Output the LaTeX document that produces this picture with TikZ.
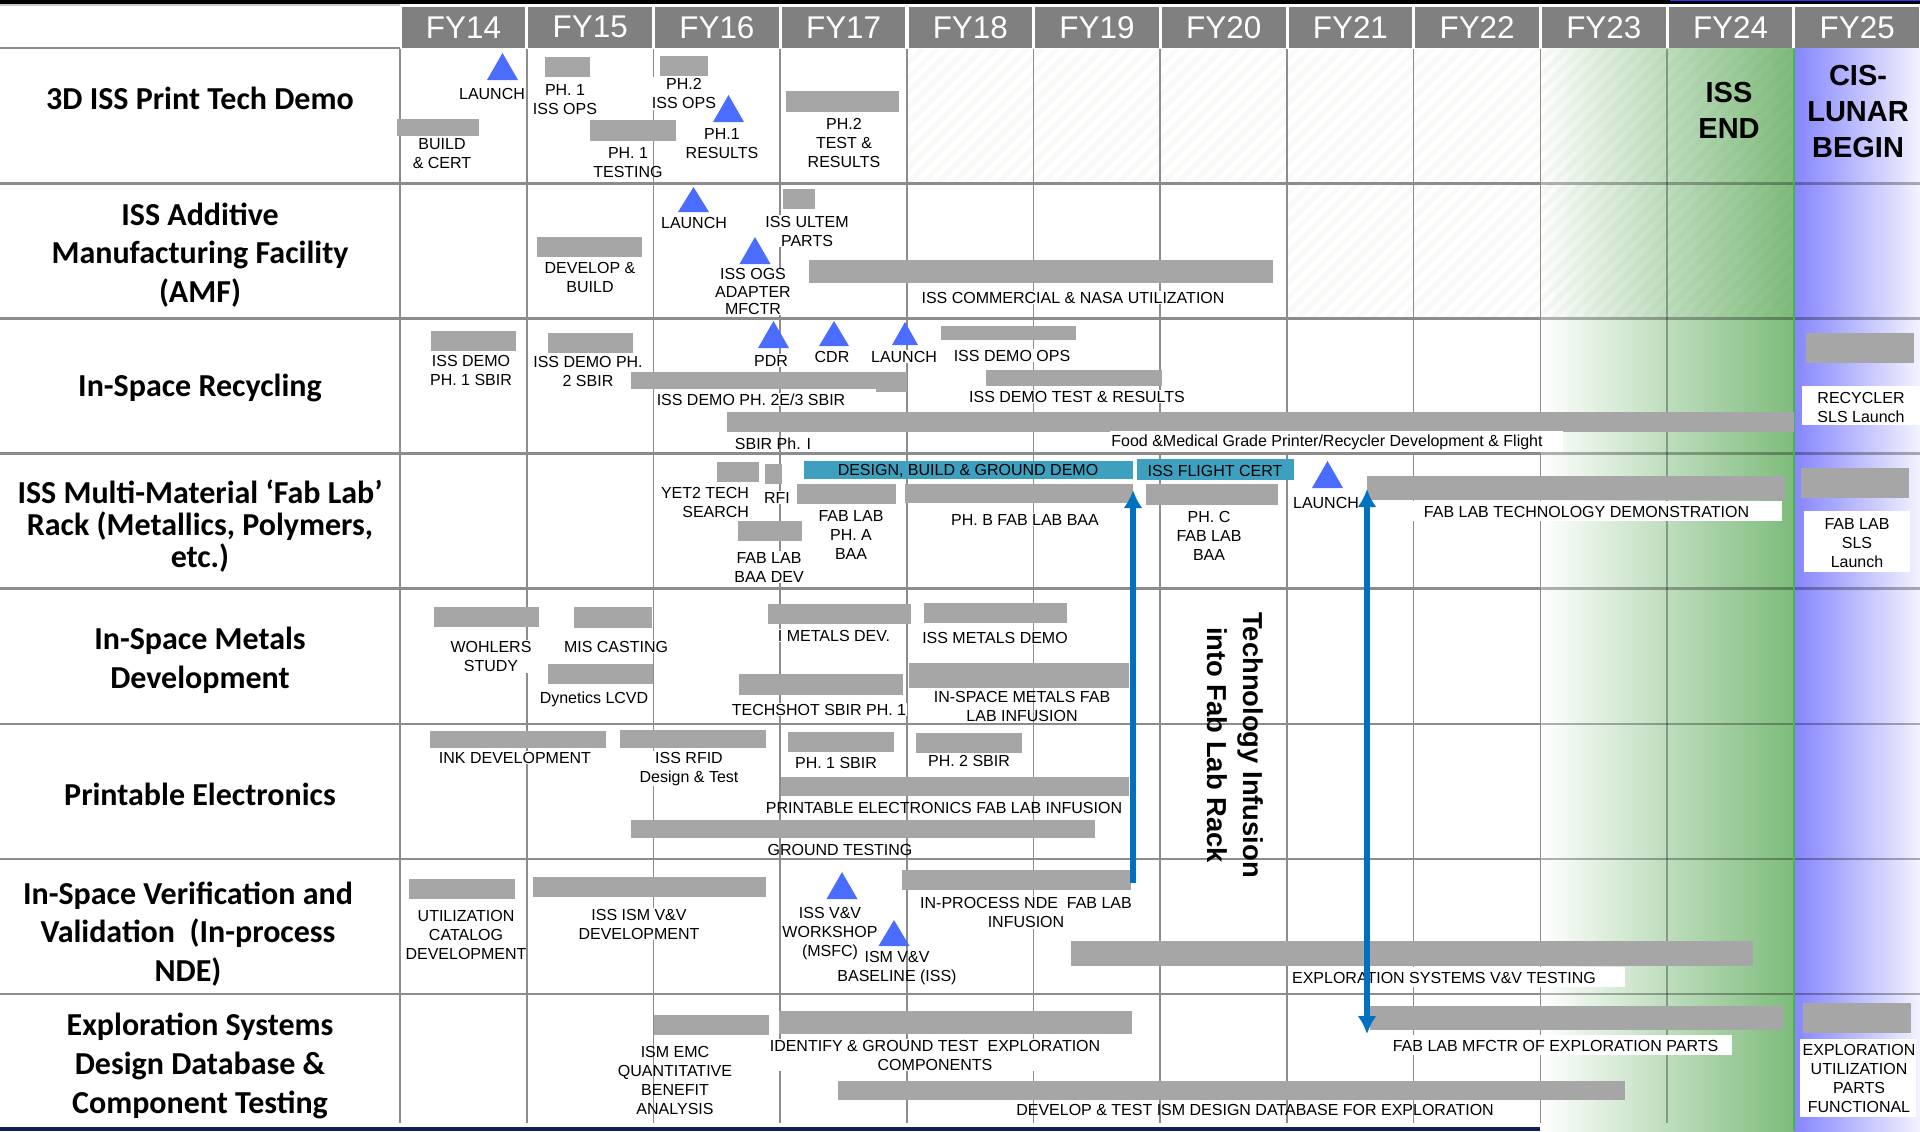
\documentclass[tikz,border=0pt]{standalone}
\usepackage{fontspec}
\setmainfont{Liberation Sans}
\newfontfamily\titlefont{Carlito}
\usetikzlibrary{arrows.meta}
\definecolor{barfill}{HTML}{A6A6A6}
\definecolor{gridline}{HTML}{8C8C8C}
\definecolor{headfill}{HTML}{808080}
\definecolor{tealfill}{HTML}{3DA0BE}
\definecolor{trifill}{HTML}{4A6CFF}
\definecolor{arrowfill}{HTML}{0070C0}
\definecolor{endgreen}{HTML}{7DBB7B}
\definecolor{startblue}{HTML}{8585FF}
\definecolor{navyline}{HTML}{10205A}
\definecolor{hatchline}{HTML}{808060}
\tikzset{
	label8/.style = {font=\fontsize{8}{9.5}\selectfont, align=center, inner sep=0.5pt, yshift=-0.3pt},
	labelw/.style = {label8, fill=white},
	rowtitle/.style = {font=\titlefont\bfseries\fontsize{16}{19.3}\selectfont, align=center, inner sep=0pt},
	fybox/.style = {fill=headfill, text=white, font=\fontsize{15.7}{18}\selectfont, minimum width=61.8pt, minimum height=20.8pt, inner sep=0pt},
	bigbold/.style = {font=\bfseries\fontsize{14.5}{18}\selectfont, align=center, inner sep=0pt},
	infusion/.style = {draw=arrowfill, line width=3pt, -{Latex[length=9pt,width=9.5pt]}},
	infusionboth/.style = {draw=arrowfill, line width=3pt, {Latex[length=9pt,width=9.5pt]}-{Latex[length=9pt,width=9.5pt]}}
}
\newcommand{\taskbar}[4]{\fill[barfill] (#1,#2) rectangle (#3,#4);}
\newcommand{\tealbar}[4]{\fill[tealfill] (#1,#2) rectangle (#3,#4);}
\newcommand{\whitepatch}[4]{\fill[white] (#1,#2) rectangle (#3,#4);}
\newcommand{\milestone}[4]{\fill[trifill] (#1,#2) -- ({#1+#3},#4) -- ({#1-#3},#4) -- cycle;}
\begin{document}
\begin{tikzpicture}[x=0.5pt,y=-0.5pt]
	\useasboundingbox (0,0) rectangle (1920,1131);

	\fill[navyline] (0,1127) rectangle (1920,1131);
	\fill[black] (0,0) rectangle (1920,4);
	\fill[blue!80!white] (1670,0) rectangle (1920,1);
	\fill[gray!40] (0,4) rectangle (400,5.5);

	\shade[left color=white, right color=endgreen] (1540,48) rectangle (1794,1131);
	\shade[left color=startblue, right color=startblue!10!white] (1794,48) rectangle (1920,1131);

	\begin{scope}
		\clip (908,49) rectangle (1794,182) (1288,184) rectangle (1794,317);
		\foreach \s in {908,923,...,2070} {
			\draw[hatchline, opacity=0.05, line width=2.5pt] (\s,48) -- ({\s-270},318);
		}
	\end{scope}

	\foreach \yr [count=\i from 0] in {14,...,25} {
		\node[fybox] (fy\yr) at ({463.5+126.7*\i},27.3) {FY\yr};
	}

	\draw[gridline, line width=1pt] (0,48.3) -- (400,48.3);
	\foreach \y in {183.4,318.4,453.4,588.5,724.2,859.2,994.2} {
		\draw[gridline, line width=1.1pt] (0,\y) -- (1540,\y);
		\draw[black, opacity=0.3, line width=1.1pt] (1540,\y) -- (1920,\y);
	}
	\foreach \x in {400,526.7,653.4,780.1,906.8,1033.5,1160.2,1286.9,1413.6,1540.3} {
		\draw[gridline, line width=0.8pt] (\x,49) -- (\x,1123);
	}
	\draw[black, opacity=0.3, line width=0.8pt] (1667,49) -- (1667,1123);
	\draw[green!40!gray, line width=0.9pt] (1794,49) -- (1794,1131);

	\node[rowtitle] (titleprint) at (200,98) {3D ISS Print Tech Demo};
	\node[rowtitle] (titleamf) at (200,255) {ISS Additive\\[0pt]Manufacturing Facility\\(AMF)};
	\node[rowtitle] (titlerecycle) at (200,388) {In-Space Recycling};
	\node[rowtitle, font=\titlefont\bfseries\fontsize{16}{16}\selectfont] (titlefablab) at (200,526.5) {ISS Multi-Material ‘Fab Lab’\\Rack (Metallics, Polymers,\\etc.)};
	\node[rowtitle] (titlemetals) at (200,660) {In-Space Metals\\Development};
	\node[rowtitle] (titleelec) at (200,794) {Printable Electronics};
	\node[rowtitle] (titlendev) at (188,934) {In-Space Verification and\\Validation\ \ (In-process\\NDE)};
	\node[rowtitle] (titleexpl) at (200,1066) {Exploration Systems\\Design Database \&\\Component Testing};

	\node[bigbold] (issend) at (1729,110) {ISS\\END};
	\node[bigbold] (cislunar) at (1858,112) {CIS-\\LUNAR\\BEGIN};

	\taskbar{397}{119}{479}{136}
	\taskbar{545}{57}{590}{77}
	\taskbar{660}{56}{708}{76}
	\taskbar{590}{120}{676}{141}
	\taskbar{786}{91}{899}{112}
	\milestone{502.5}{53}{15.5}{80}
	\milestone{728.5}{95}{15.5}{122}
	\node[labelw] (launcha) at (492,93) {LAUNCH};
	\node[labelw] (phaops) at (565,98.5) {PH. 1\\ISS OPS};
	\node[label8] (build) at (442,152.5) {BUILD\\\& CERT};
	\node[labelw] (phbops) at (684,93) {PH.2\\ISS OPS};
	\node[label8] (pharesults) at (722,142.5) {PH.1\\RESULTS};
	\node[label8] (phatesting) at (628,161.5) {PH. 1\\TESTING};
	\node[label8] (phbtest) at (844,142) {PH.2\\TEST \&\\RESULTS};

	\taskbar{783}{189}{815}{209}
	\taskbar{537}{237}{642}{257}
	\taskbar{809}{260}{1273}{283}
	\milestone{693.5}{187}{15.5}{212}
	\milestone{755}{237}{15.5}{264}
	\node[labelw] (launchb) at (694,222) {LAUNCH};
	\node[labelw] (ultem) at (807,230.5) {ISS ULTEM\\PARTS};
	\node[label8] (develop) at (590,276.5) {DEVELOP \&\\BUILD};
	\node[labelw, font=\fontsize{8}{8.6}\selectfont] (ogs) at (753,291) {ISS OGS\\ADAPTER\\MFCTR};
	\node[labelw] (commercial) at (1073,297) {ISS COMMERCIAL \& NASA UTILIZATION};

	\node[label8] (demob) at (588,370.5) {ISS DEMO PH.\\2 SBIR};
	\taskbar{431}{331}{516}{351}
	\taskbar{548}{333}{633}{353}
	\taskbar{631}{372}{907}{389}
	\taskbar{876}{372}{907}{392}
	\taskbar{941}{326}{1076}{340}
	\taskbar{986}{370}{1162}{386}
	\taskbar{727}{412}{1794}{432}
	\taskbar{1806}{333}{1914}{363}
	\milestone{773.5}{321}{15.5}{348}
	\milestone{834}{321}{15}{346}
	\milestone{905}{322}{13}{345}
	\node[label8] (demoa) at (471,369.5) {ISS DEMO\\PH. 1 SBIR};
	\node[labelw] (democ) at (751,399) {ISS DEMO PH. 2E/3 SBIR};
	\node[labelw] (pdr) at (771,360) {PDR};
	\node[labelw] (cdr) at (832,356) {CDR};
	\node[labelw] (launchc) at (904,356) {LAUNCH};
	\node[labelw] (demoops) at (1012,355) {ISS DEMO OPS};
	\node[labelw] (demotest) at (1077,396) {ISS DEMO TEST \& RESULTS};
	\node[label8] (sbira) at (773,443) {SBIR Ph. I};
	\whitepatch{1110}{431}{1563}{452}
	\node[label8] (food) at (1327,442) {Food \&Medical Grade Printer/Recycler Development \& Flight};
	\whitepatch{1802}{386}{1920}{425}
	\node[label8] (recycler) at (1861,406.5) {RECYCLER\\SLS Launch};

	\taskbar{717}{462}{759}{482}
	\taskbar{765}{464}{782}{484}
	\taskbar{797}{484}{896}{504}
	\taskbar{905}{484}{1133}{503}
	\taskbar{1146}{484}{1278}{505}
	\taskbar{738}{521}{802}{541}
	\taskbar{1367}{476}{1785}{500}
	\taskbar{1801}{468}{1909}{498}
	\tealbar{804}{461}{1133}{479}
	\tealbar{1137}{459}{1294}{480}
	\milestone{1327.5}{461}{15.5}{488}
	\node[label8] (design) at (968,470) {DESIGN, BUILD \& GROUND DEMO};
	\node[label8] (flightcert) at (1215,470) {ISS FLIGHT CERT};
	\node[label8, align=right] (yettwo) at (705,501.5) {YET2 TECH\\SEARCH};
	\node[labelw] (rfi) at (777,497) {RFI};
	\node[labelw] (baadev) at (769,566.5) {FAB LAB\\BAA DEV};
	\node[labelw] (phasea) at (851,534) {FAB LAB\\PH. A\\BAA};
	\node[labelw] (phaseb) at (1025,519) {PH. B FAB LAB BAA};
	\node[label8] (phasec) at (1209,535) {PH. C\\FAB LAB\\BAA};
	\node[labelw] (launchd) at (1326,502) {LAUNCH};
	\whitepatch{1413}{501}{1782}{521}
	\node[label8] (fabdemo) at (1586.5,511) {FAB LAB TECHNOLOGY DEMONSTRATION};
	\whitepatch{1804}{511}{1910}{572}
	\node[label8] (fabsls) at (1857,542.5) {FAB LAB\\SLS\\Launch};

	\taskbar{434}{607}{539}{627}
	\taskbar{574}{607}{652}{628}
	\taskbar{548}{664}{653}{684}
	\taskbar{768}{604}{911}{624}
	\taskbar{739}{674}{903}{695}
	\taskbar{924}{603}{1067}{623}
	\taskbar{909}{663}{1129}{688}
	\node[labelw] (wohlers) at (491,656) {WOHLERS\\STUDY};
	\node[labelw] (miscasting) at (616,646) {MIS CASTING};
	\node[labelw] (dynetics) at (594,699) {Dynetics LCVD};
	\node[labelw] (imetals) at (834,635) {I METALS DEV.};
	\node[labelw] (techshot) at (819,709) {TECHSHOT SBIR PH. 1};
	\node[labelw] (metalsdemo) at (995,637) {ISS METALS DEMO};
	\node[label8] (metalsfab) at (1022,706) {IN-SPACE METALS FAB\\LAB INFUSION};

	\taskbar{430}{731}{606}{748}
	\taskbar{620}{730}{766}{748}
	\taskbar{788}{732}{894}{752}
	\taskbar{916}{733}{1022}{753}
	\taskbar{781}{777}{1129}{796}
	\taskbar{631}{820}{1095}{838}
	\node[labelw] (ink) at (515,757) {INK DEVELOPMENT};
	\node[labelw] (rfid) at (689,768) {ISS RFID\\Design \& Test};
	\node[labelw] (sbirone) at (836,762) {PH. 1 SBIR};
	\node[labelw] (sbirtwo) at (969,760) {PH. 2 SBIR};
	\node[label8] (printfab) at (944,807) {PRINTABLE ELECTRONICS FAB LAB INFUSION};
	\node[label8] (ground) at (840,849) {GROUND TESTING};

	\taskbar{409}{879}{515}{899}
	\taskbar{533}{877}{766}{897}
	\taskbar{902}{870}{1131}{890}
	\taskbar{1071}{941}{1753}{966}
	\milestone{842}{872}{15.5}{899}
	\milestone{894}{920}{15.5}{946}
	\node[label8] (catalog) at (466,934.5) {UTILIZATION\\CATALOG\\DEVELOPMENT};
	\node[labelw] (ismvv) at (639,923.5) {ISS ISM V\&V\\DEVELOPMENT};
	\node[label8] (workshop) at (830,933) {ISS V\&V\\WORKSHOP\\(MSFC)};
	\node[label8] (baseline) at (897,967) {ISM V\&V\\BASELINE (ISS)};
	\node[labelw] (inprocess) at (1026,912) {IN-PROCESS NDE\ \ FAB LAB\\INFUSION};
	\whitepatch{1288}{967}{1625}{987}
	\node[label8] (explvv) at (1444,977) {EXPLORATION SYSTEMS V\&V TESTING};

	\taskbar{654}{1015}{769}{1035}
	\taskbar{779}{1011}{1132}{1034}
	\taskbar{1370}{1006}{1783}{1030}
	\taskbar{1803}{1003}{1911}{1033}
	\taskbar{838}{1081}{1625}{1100}
	\node[label8] (ismemc) at (675,1079.5) {ISM EMC\\QUANTITATIVE\\BENEFIT\\ANALYSIS};
	\node[labelw] (identify) at (935,1054.5) {IDENTIFY \& GROUND TEST\ \ EXPLORATION\\COMPONENTS};
	\whitepatch{1380}{1035}{1732}{1055}
	\node[label8] (fabmfctr) at (1555.5,1045) {FAB LAB MFCTR OF EXPLORATION PARTS};
	\whitepatch{1800}{1039}{1916}{1117}
	\node[label8] (utilparts) at (1859,1077.5) {EXPLORATION\\UTILIZATION\\PARTS\\FUNCTIONAL};
	\node[label8] (dbase) at (1255,1109) {DEVELOP \& TEST ISM DESIGN DATABASE FOR EXPLORATION};

	\coordinate (infuseatail) at (1133,883);
	\coordinate (infuseahead) at (1133,490);
	\coordinate (infusebtop) at (1367,489);
	\coordinate (infusebbot) at (1367,1034);
	\draw[infusion] (infuseatail) -- (infuseahead);
	\draw[infusionboth] (infusebtop) -- (infusebbot);

	\node[bigbold, rotate=-90, font=\bfseries\fontsize{13.7}{18}\selectfont] (infusetext) at (1235.5,745) {Technology Infusion\\into Fab Lab Rack};
\end{tikzpicture}
\end{document}
